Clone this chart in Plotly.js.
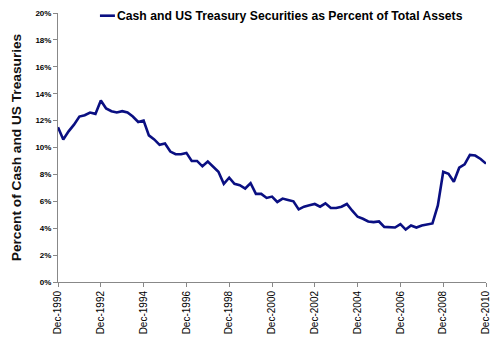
<!DOCTYPE html>
<html>
<head>
<meta charset="utf-8">
<script src="https://cdn.plot.ly/plotly-3.0.1.min.js"></script>
<style>html,body{margin:0;padding:0;background:#fff;}#chart{width:500px;height:341px;}</style>
</head>
<body>
<div id="chart"></div>
<script>
// Quarterly observations, Dec-1990 .. Dec-2010
var startYear = 1990;
var values = [
  11.5, 10.6, 11.2, 11.7, 12.3, 12.4, 12.6, 12.5,
  13.5, 12.9, 12.7, 12.6, 12.7, 12.6, 12.3, 11.9,
  12.0, 10.9, 10.6, 10.2, 10.3, 9.7, 9.5, 9.5,
  9.6, 9.0, 9.0, 8.6, 8.95, 8.6, 8.2, 7.3,
  7.75, 7.3, 7.2, 6.95, 7.35, 6.55, 6.55, 6.25,
  6.35, 5.95, 6.2, 6.1, 6.0, 5.4, 5.6, 5.7,
  5.8, 5.6, 5.85, 5.5, 5.5, 5.6, 5.8, 5.3,
  4.85, 4.7, 4.5, 4.45, 4.5, 4.1, 4.1, 4.05,
  4.3, 3.9, 4.2, 4.05, 4.2, 4.3, 4.35, 5.7,
  8.2, 8.05, 7.45, 8.5, 8.75, 9.45, 9.4, 9.15,
  8.8
];
var tickLabels = ["Dec-1990","Dec-1992","Dec-1994","Dec-1996","Dec-1998","Dec-2000",
                  "Dec-2002","Dec-2004","Dec-2006","Dec-2008","Dec-2010"];
var tickDates = ["1990-12-31","1992-12-31","1994-12-31","1996-12-31","1998-12-31","2000-12-31",
                 "2002-12-31","2004-12-31","2006-12-31","2008-12-31","2010-12-31"];
var seriesName = "Cash and US Treasury Securities as Percent of Total Assets";
var yTitle = "Percent of Cash and US Treasuries";

// quarter-end dates
var qEnds = ["-03-31","-06-30","-09-30","-12-31"];
var dates = [];
for (var i = 0; i < values.length; i++) {
  var q = 3 + i; // start at Q4 1990
  var y = startYear + Math.floor(q / 4);
  dates.push(y + qEnds[q % 4]);
}

var trace = {
  x: dates, y: values, type: "scatter", mode: "lines",
  name: seriesName,
  line: {color: "#0a0f82", width: 2.6},
  showlegend: false, hoverinfo: "skip"
};

var layout = {
  width: 500, height: 341,
  margin: {l: 58, r: 14, t: 13, b: 59},
  paper_bgcolor: "#fff", plot_bgcolor: "#fff",
  font: {family: "Liberation Sans, Arial, sans-serif", color: "#000"},
  xaxis: {
    type: "date",
    range: [dates[0], dates[dates.length - 1]],
    tickmode: "array", tickvals: tickDates, ticktext: tickLabels,
    tickangle: -90, tickfont: {size: 10, color: "#000"},
    ticks: "outside", ticklen: 4, tickcolor: "#888",
    showline: true, linecolor: "#888", linewidth: 1,
    showgrid: false, zeroline: false
  },
  yaxis: {
    range: [0, 20], dtick: 2, tick0: 0, ticksuffix: "%",
    tickfont: {size: 8, color: "#000", weight: "bold"},
    ticks: "outside", ticklen: 4, tickcolor: "#888",
    showline: true, linecolor: "#888", linewidth: 1,
    showgrid: false, zeroline: false,
    title: {text: yTitle, font: {size: 13.7, weight: "bold", color: "#111"}, standoff: 10}
  },
  shapes: [{
    type: "line", xref: "paper", yref: "paper",
    x0: 0.098, x1: 0.133, y0: 0.99, y1: 0.99,
    line: {color: "#0a0f82", width: 2.6}
  }],
  annotations: [{
    text: seriesName, xref: "paper", yref: "paper",
    x: 0.133, y: 0.99, xanchor: "left", yanchor: "middle",
    showarrow: false, font: {size: 12.2, weight: "bold", color: "#000"}
  }]
};

Plotly.newPlot("chart", [trace], layout, {displayModeBar: false, staticPlot: true});
</script>
</body>
</html>
